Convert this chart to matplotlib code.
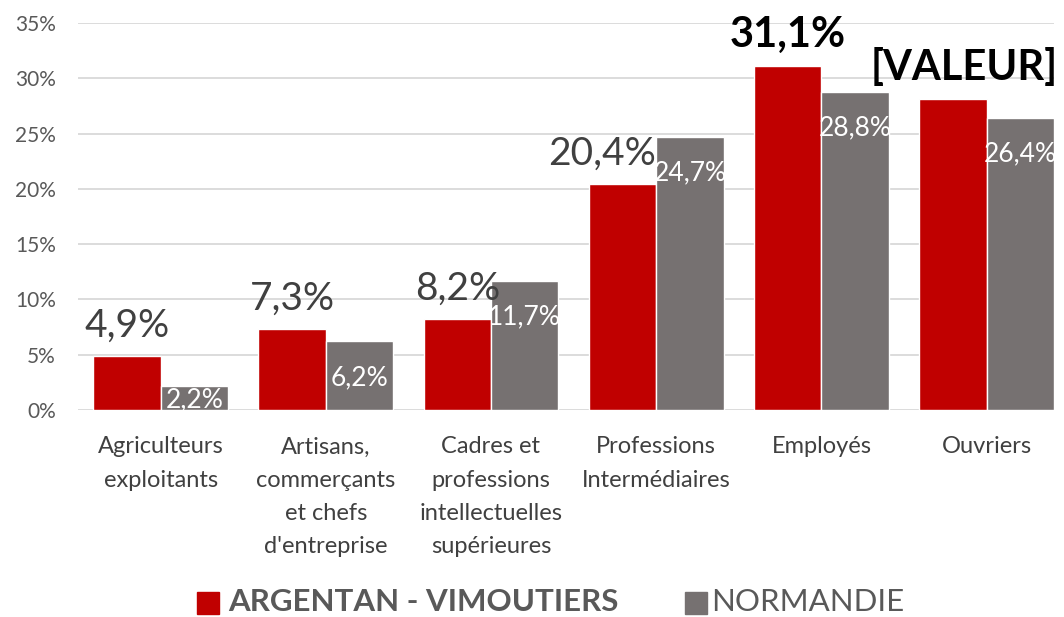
import matplotlib.pyplot as plt
import numpy as np

plt.rcParams['font.family'] = ['Lato', 'DejaVu Sans']

categories = ['Agriculteurs\nexploitants', 'Artisans,\ncommerçants\net chefs\nd\'entreprise',
              'Cadres et\nprofessions\nintellectuelles\nsupérieures', 'Professions\nIntermédiaires',
              'Employés', 'Ouvriers']
argentan = [4.9, 7.3, 8.2, 20.4, 31.1, 28.1]
normandie = [2.2, 6.2, 11.7, 24.7, 28.8, 26.4]
argentan_labels = ['4,9%', '7,3%', '8,2%', '20,4%', '31,1%', '[VALEUR]']
normandie_labels = ['2,2%', '6,2%', '11,7%', '24,7%', '28,8%', '26,4%']
yticks = [0, 5, 10, 15, 20, 25, 30, 35]

red = '#C00000'
grey = '#767171'

fig = plt.figure(figsize=(10.64, 6.17), dpi=100)
ax = fig.add_axes([0.0733, 0.3355, 0.9173, 0.6272])

x = np.arange(len(categories))
off = 0.204
w = 0.408
ax.bar(x - off, argentan, w, color=red, edgecolor='white', linewidth=1, zorder=3)
ax.bar(x + off, normandie, w, color=grey, edgecolor='white', linewidth=1, zorder=3)

ax.set_xlim(-0.5, 5.408)
ax.set_ylim(0, 35)
ax.set_yticks(yticks)
ax.set_yticklabels([f'{t}%' for t in yticks], fontsize=15, color='#595959')
ax.set_xticks(x)
ax.set_xticklabels(categories, fontsize=17, color='#404040', linespacing=1.72, va='top')
ax.tick_params(axis='both', length=0)
ax.tick_params(axis='x', pad=19)
ax.tick_params(axis='y', pad=16)
ax.grid(axis='y', color='#d9d9d9', linewidth=1.3, zorder=0)
for s in ax.spines.values():
    s.set_visible(False)

# red series labels above the bars
for i, (v, lab) in enumerate(zip(argentan, argentan_labels)):
    dx = 0
    bold = i >= 4
    if i == 3:
        dx = -15
    if i == 5:
        dx = 8
    ax.annotate(lab, (x[i] - off, v), xytext=(dx, 9), textcoords='offset points',
                ha='center', va='bottom', fontsize=30 if bold else 28,
                fontweight='bold' if bold else 'normal',
                color='black' if bold else '#404040', zorder=5)

# grey series labels inside the bar top
for i, (v, lab) in enumerate(zip(normandie, normandie_labels)):
    dy = -17 if v > 4 else -1
    ax.annotate(lab, (x[i] + off, v), xytext=(0, dy), textcoords='offset points',
                ha='center', va='top', fontsize=19, color='white', zorder=5)

# legend
fig.patches.append(plt.Rectangle((197 / 1064, 1 - 614 / 617), 22 / 1064, 22 / 617,
                                 transform=fig.transFigure, color=red))
fig.text(228 / 1064, 1 - 602 / 617, 'ARGENTAN - VIMOUTIERS', fontsize=22.5, fontweight='bold',
         color='#595959', va='center', ha='left')
fig.patches.append(plt.Rectangle((685 / 1064, 1 - 614 / 617), 22 / 1064, 22 / 617,
                                 transform=fig.transFigure, color=grey))
fig.text(711 / 1064, 1 - 602 / 617, 'NORMANDIE', fontsize=22.5,
         color='#595959', va='center', ha='left')

fig.savefig('out.png', dpi=100)
